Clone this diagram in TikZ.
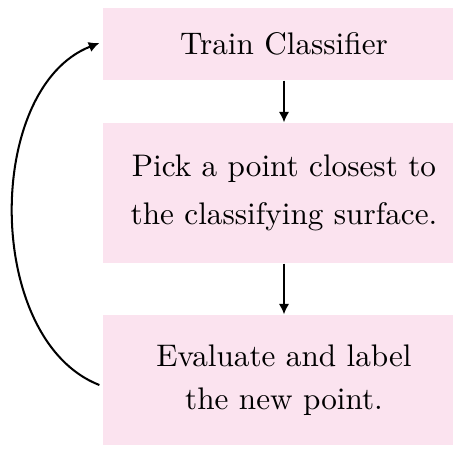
\documentclass[tikz,border=0pt]{standalone}
\usetikzlibrary{arrows.meta}
\definecolor{boxpink}{RGB}{251,227,239}
\begin{document}
\begin{tikzpicture}[x=0.3205pt,y=-0.3205pt,
  stepbox/.style={fill=boxpink,draw=none,align=center,minimum width=362*0.3205pt,inner sep=0pt},
  flow/.style={line width=0.65pt,-{Latex[length=3.4pt,width=3.4pt]}}]
\useasboundingbox (0,0) rectangle (453,448);
\node[stepbox,minimum height=72*0.3205pt,font={\fontsize{10}{15}\selectfont}] (n1) at (284,44) {Train Classifier};
\node[stepbox,minimum height=140*0.3205pt,font={\fontsize{10}{15.2}\selectfont}] (n2) at (284,193) {Pick a point closest to\\the classifying surface.};
\node[stepbox,minimum height=130*0.3205pt,font={\fontsize{10}{13.7}\selectfont}] (n3) at (284,380) {Evaluate and label\\the new point.};
\draw[flow] (n1.south) -- (n2.north);
\draw[flow] (n2.south) -- (n3.north);
\draw[flow] ([shift={(-3,5)}]n3.west) .. controls (-16,340) and (-16,88) .. ([shift={(-3,-1)}]n1.west);
\end{tikzpicture}
\end{document}
